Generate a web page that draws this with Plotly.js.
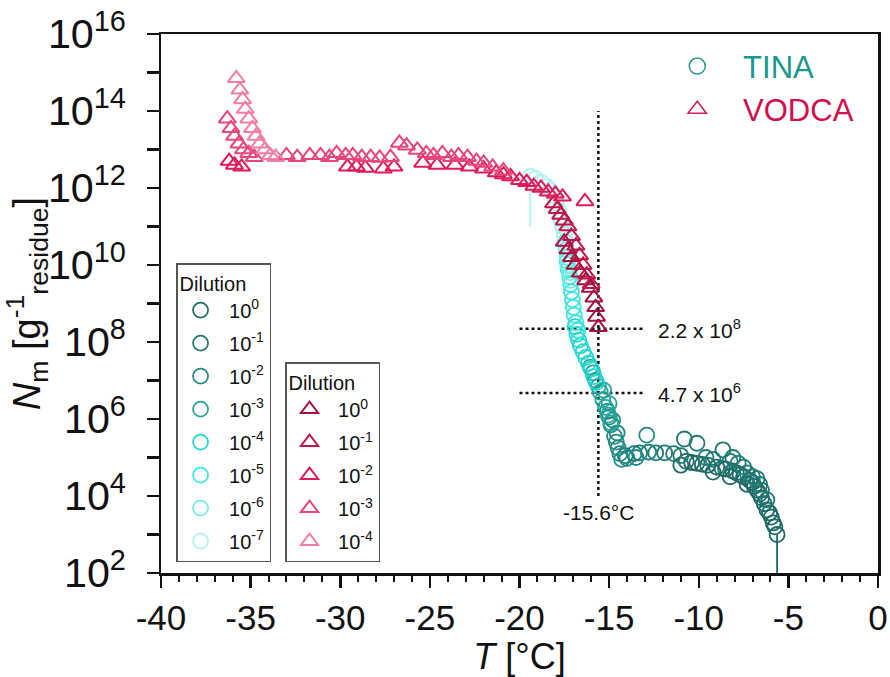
<!DOCTYPE html>
<html>
<head>
<meta charset="utf-8">
<script src="https://cdn.plot.ly/plotly-3.0.1.min.js"></script>
<style>html,body{margin:0;padding:0;background:#fff;}#chart{width:890px;height:677px;}</style>
</head>
<body>
<div id="chart"></div>
<script>
// ---------- DATA (T in °C, log10 of N_m in g^-1 residue) ----------
const dilutionLabels = ['10<sup>0</sup>','10<sup>-1</sup>','10<sup>-2</sup>','10<sup>-3</sup>','10<sup>-4</sup>','10<sup>-5</sup>','10<sup>-6</sup>','10<sup>-7</sup>'];
const xTickVals = [-40,-35,-30,-25,-20,-15,-10,-5,0];
const xTickText = ['-40','-35','-30','-25','-20','-15','-10','-5','0'];

// TINA
const tina_T_0 = [-5.63,-5.75,-5.85,-5.95,-6.05,-6.2,-6.35,-6.5,-6.6,-6.75,-6.9,-7.0,-7.15,-7.3,-7.5,-7.7,-7.9,-8.1,-8.25,-8.5,-8.7,-9.0,-9.2,-9.5,-9.8,-10.1,-10.4,-10.7,-11.0];
const tina_logN_0 = [3.0,3.2,3.3,3.45,3.56,3.64,3.8,3.95,4.05,4.15,4.25,4.35,4.4,4.3,4.5,4.55,4.6,4.65,4.5,4.7,4.72,4.75,4.62,4.8,4.82,4.85,4.87,4.9,4.8];
const tina_T_1 = [-14.1,-13.6,-13.3,-12.8,-12.4,-11.9,-11.4,-11.0,-10.8,-10.1,-9.6,-9.2,-8.65,-8.25,-8.1,-7.8,-7.5,-7.3,-7.0,-6.75,-6.6,-6.5,-6.2];
const tina_logN_1 = [5.05,5.1,5.12,5.14,5.12,5.12,5.1,5.05,5.48,5.37,5.0,4.95,5.2,4.9,5.0,4.85,4.75,4.6,4.5,4.45,4.3,4.15,3.9];
const tina_T_2 = [-14.3,-14.4,-14.5,-14.55,-14.6,-14.7,-14.8,-14.9,-15.0,-15.1,-12.9,-12.8,-13.5,-14.0];
const tina_logN_2 = [4.95,5.1,5.25,5.64,5.4,5.55,5.97,5.85,6.05,6.2,5.58,5.14,5.0,4.98];
const tina_T_3 = [-14.9,-15.05,-15.2,-15.35,-15.5,-15.6,-15.75,-15.9,-16.05,-15.0,-15.3];
const tina_logN_3 = [5.9,6.1,6.3,6.5,6.7,6.85,7.0,7.2,7.35,6.4,6.75];
const tina_T_4 = [-15.7,-15.85,-16.0,-16.15,-16.3,-16.45,-16.6,-16.7,-16.8,-16.9];
const tina_logN_4 = [6.95,7.1,7.3,7.45,7.6,7.75,7.9,8.05,8.2,8.4];
const tina_T_5 = [-16.75,-16.85,-16.95,-17.0,-17.05,-17.1,-17.15,-17.2,-17.3,-17.35];
const tina_logN_5 = [8.3,8.5,8.7,8.9,9.1,9.3,9.5,9.7,9.9,10.1];
const tina_T_6 = [-17.15,-17.2,-17.3,-17.35,-17.4,-17.45,-17.5,-17.6,-17.7];
const tina_logN_6 = [9.6,9.8,10.0,10.2,10.4,10.6,10.8,11.0,11.2];
const tina_T_7 = [-17.5,-17.6,-17.7,-17.8,-17.95,-18.1,-18.3,-18.5,-18.8,-19.1,-19.4];
const tina_logN_7 = [10.8,11.0,11.2,11.4,11.6,11.8,11.95,12.05,12.15,12.25,12.3];
// lower ends of error bars (log10), null = none
const tina_errLow_0 = [1.9,null,null,null,null,null,null,3.7,null,null,null,null,null,null,null,null,null,null,null,null,null,null,null,null,null,null,null,null,null];
const tina_errLow_7 = [null,null,null,null,null,null,null,null,null,null,11.0];

// VODCA
const vodca_T_0 = [-17.5,-17.3,-17.1,-16.9,-16.6,-16.3,-16.05,-15.85,-15.75,-15.7,-15.6];
const vodca_logN_0 = [10.6,10.4,10.2,10.0,9.8,9.6,9.4,9.15,8.9,8.65,8.38];
const vodca_T_1 = [-18.1,-17.9,-17.7,-17.5,-17.3,-17.1,-16.85,-16.65,-16.45,-16.25,-16.0];
const vodca_logN_1 = [11.6,11.45,11.3,11.15,11.0,10.75,10.5,10.25,10.0,9.75,9.5];
const vodca_T_2 = [-36.2,-35.9,-35.5,-29.6,-29.1,-28.6,-27.6,-27.0,-25.4,-24.6,-23.6,-22.8,-22.0,-21.3,-20.9,-20.5,-20.0,-19.6,-19.2,-18.8,-18.4,-18.0,-17.6,-16.35];
const vodca_logN_2 = [12.7,12.6,12.55,12.55,12.55,12.52,12.5,12.55,12.65,12.6,12.6,12.55,12.5,12.4,12.35,12.3,12.2,12.15,12.05,12.0,11.9,11.85,11.77,11.65];
const vodca_T_3 = [-36.3,-36.1,-35.9,-35.65,-35.4,-35.1,-34.8,-33.0,-32.4,-31.7,-31.1,-30.6,-30.2,-29.7,-29.3,-28.8,-28.3,-27.8,-27.2,-26.7,-26.3,-25.7,-25.2,-24.8,-24.3,-23.8,-23.4,-22.9,-22.4,-22.0,-21.5,-20.9];
const vodca_logN_3 = [13.8,13.55,13.35,13.15,13.0,12.9,12.8,12.85,12.8,12.85,12.85,12.8,12.9,12.85,12.85,12.8,12.8,12.78,12.8,13.17,13.1,12.99,12.9,12.85,12.9,12.8,12.85,12.8,12.7,12.65,12.55,12.45];
const vodca_T_4 = [-35.8,-35.6,-35.45,-35.3,-35.1,-34.9,-34.7,-34.5,-34.2,-33.9,-33.6];
const vodca_logN_4 = [14.85,14.55,14.3,14.05,13.8,13.55,13.35,13.15,13.0,12.85,12.8];

// annotation values
const markerT = -15.6;
const levelA = 2.2e8, levelB = 4.7e6;

// ---------- STYLE ----------
const tinaColors = ['#1d6a66','#1f7a74','#228c84','#26a59c','#22d8d0','#3fe4de','#74ece8','#aef3f0'];
const vodcaColors = ['#a11341','#bf1549','#df1a58','#e8467a','#f07ea4'];
const FONT = 'Liberation Sans, Arial, Helvetica, sans-serif';
const SP = '&nbsp;';

const tinaSets = [
  [tina_T_0, tina_logN_0, tina_errLow_0],
  [tina_T_1, tina_logN_1, null],
  [tina_T_2, tina_logN_2, null],
  [tina_T_3, tina_logN_3, null],
  [tina_T_4, tina_logN_4, null],
  [tina_T_5, tina_logN_5, null],
  [tina_T_6, tina_logN_6, null],
  [tina_T_7, tina_logN_7, tina_errLow_7]
];
const vodcaSets = [
  [vodca_T_0, vodca_logN_0],
  [vodca_T_1, vodca_logN_1],
  [vodca_T_2, vodca_logN_2],
  [vodca_T_3, vodca_logN_3],
  [vodca_T_4, vodca_logN_4]
];

const pow10 = v => Math.pow(10, v);
const traces = [];

tinaSets.forEach((s, i) => {
  const y = s[1].map(pow10);
  const tr = {
    type: 'scatter', mode: 'markers', x: s[0], y: y,
    name: SP + dilutionLabels[i], legend: 'legend2', legendgroup: 't' + i,
    marker: {symbol: 'circle-open', size: 15, color: tinaColors[i], line: {width: 1.8, color: tinaColors[i]}},
    hoverinfo: 'x+y'
  };
  if (s[2]) {
    tr.error_y = {type: 'data', symmetric: false, array: y.map(() => 0),
      arrayminus: s[2].map((lo, k) => lo === null ? 0 : y[k] - pow10(lo)),
      color: tinaColors[i], thickness: 1.8, width: 0};
  }
  traces.push(tr);
});

vodcaSets.forEach((s, i) => {
  traces.push({
    type: 'scatter', mode: 'markers', x: s[0], y: s[1].map(pow10),
    name: SP + dilutionLabels[i], legend: 'legend3', legendgroup: 'v' + i,
    marker: {symbol: 'triangle-up-open', size: 15, color: vodcaColors[i], line: {width: 2, color: vodcaColors[i]}},
    hoverinfo: 'x+y'
  });
});

// Instrument legend entries
traces.push({type: 'scatter', mode: 'markers', x: [null], y: [null], legend: 'legend',
  name: SP + SP + SP + '<span style="color:#17998d">TINA</span>',
  marker: {symbol: 'circle-open', size: 16, color: '#2a9a90', line: {width: 1.5}}});
traces.push({type: 'scatter', mode: 'markers', x: [null], y: [null], legend: 'legend',
  name: SP + SP + SP + '<span style="color:#cf0f4e">VODCA</span>',
  marker: {symbol: 'triangle-up-open', size: 16, color: '#c8205a', line: {width: 1.5}}});

const dotLine = {color: '#111', width: 2.5, dash: 'dot'};
const layout = {
  width: 890, height: 677,
  margin: {l: 161, r: 12, t: 34, b: 104},
  paper_bgcolor: '#fff', plot_bgcolor: '#fff',
  font: {family: FONT, color: '#111'},
  showlegend: true,
  xaxis: {
    range: [-40, 0], tickmode: 'array', tickvals: xTickVals, ticktext: xTickText,
    ticks: 'outside', ticklen: 12, tickwidth: 2.5, tickcolor: '#111',
    showline: true, linewidth: 2.5, linecolor: '#111', mirror: true, showgrid: false, zeroline: false,
    minor: {dtick: 1, tick0: 0, ticks: 'outside', ticklen: 6, tickwidth: 2, tickcolor: '#111', showgrid: false},
    tickfont: {size: 35, family: FONT, color: '#111'},
    title: {text: '<i>T</i> [°C]', font: {size: 36, family: FONT, color: '#111'}, standoff: 8}
  },
  yaxis: {
    type: 'log', range: [2, 16], dtick: 2, tick0: 0, exponentformat: 'power', showexponent: 'all',
    ticks: 'outside', ticklen: 12, tickwidth: 2.5, tickcolor: '#111', ticklabelstandoff: 14,
    showline: true, linewidth: 2.5, linecolor: '#111', mirror: true, showgrid: false, zeroline: false,
    minor: {dtick: 1, ticks: 'outside', ticklen: 12, tickwidth: 2.5, tickcolor: '#111', showgrid: false},
    tickfont: {size: 33, family: FONT, color: '#111'},
    title: {text: '<i>N</i><sub>m</sub> [g<sup>-1</sup><sub>residue</sub>]', font: {size: 38, family: FONT, color: '#111'}, standoff: 6}
  },
  legend: {x: 0.72, y: 0.99, xanchor: 'left', yanchor: 'top', bgcolor: 'rgba(0,0,0,0)', borderwidth: 0,
    font: {size: 31, family: FONT}, itemwidth: 30, tracegroupgap: 0},
  legend2: {x: 0.021, y: 0.575, xanchor: 'left', yanchor: 'top', bgcolor: '#fff', bordercolor: '#555', borderwidth: 1.5,
    title: {text: 'Dilution', font: {size: 20, family: FONT}}, font: {size: 20, family: FONT},
    itemwidth: 36, tracegroupgap: 4, itemclick: false},
  legend3: {x: 0.173, y: 0.391, xanchor: 'left', yanchor: 'top', bgcolor: '#fff', bordercolor: '#555', borderwidth: 1.5,
    title: {text: 'Dilution', font: {size: 20, family: FONT}}, font: {size: 20, family: FONT},
    itemwidth: 36, tracegroupgap: 4, itemclick: false},
  shapes: [
    {type: 'line', xref: 'x', yref: 'y', x0: markerT, x1: markerT, y0: 1e4, y1: 1e14, line: dotLine, layer: 'below'},
    {type: 'line', xref: 'x', yref: 'y', x0: -20, x1: -13, y0: levelA, y1: levelA, line: dotLine, layer: 'below'},
    {type: 'line', xref: 'x', yref: 'y', x0: -20, x1: -13, y0: levelB, y1: levelB, line: dotLine, layer: 'below'}
  ],
  annotations: [
    {xref: 'x', yref: 'y', x: -12.4, y: Math.log10(levelA), text: '2.2 x 10<sup>8</sup>', showarrow: false, xanchor: 'left', yanchor: 'middle', font: {size: 21, family: FONT, color: '#111'}},
    {xref: 'x', yref: 'y', x: -12.4, y: Math.log10(levelB), text: '4.7 x 10<sup>6</sup>', showarrow: false, xanchor: 'left', yanchor: 'middle', font: {size: 21, family: FONT, color: '#111'}},
    {xref: 'x', yref: 'y', x: markerT, y: 3.58, text: markerT.toFixed(1) + '°C', showarrow: false, xanchor: 'center', yanchor: 'middle', font: {size: 21, family: FONT, color: '#111'}}
  ]
};

Plotly.newPlot('chart', traces, layout, {displayModeBar: false, staticPlot: true});
</script>
</body>
</html>
